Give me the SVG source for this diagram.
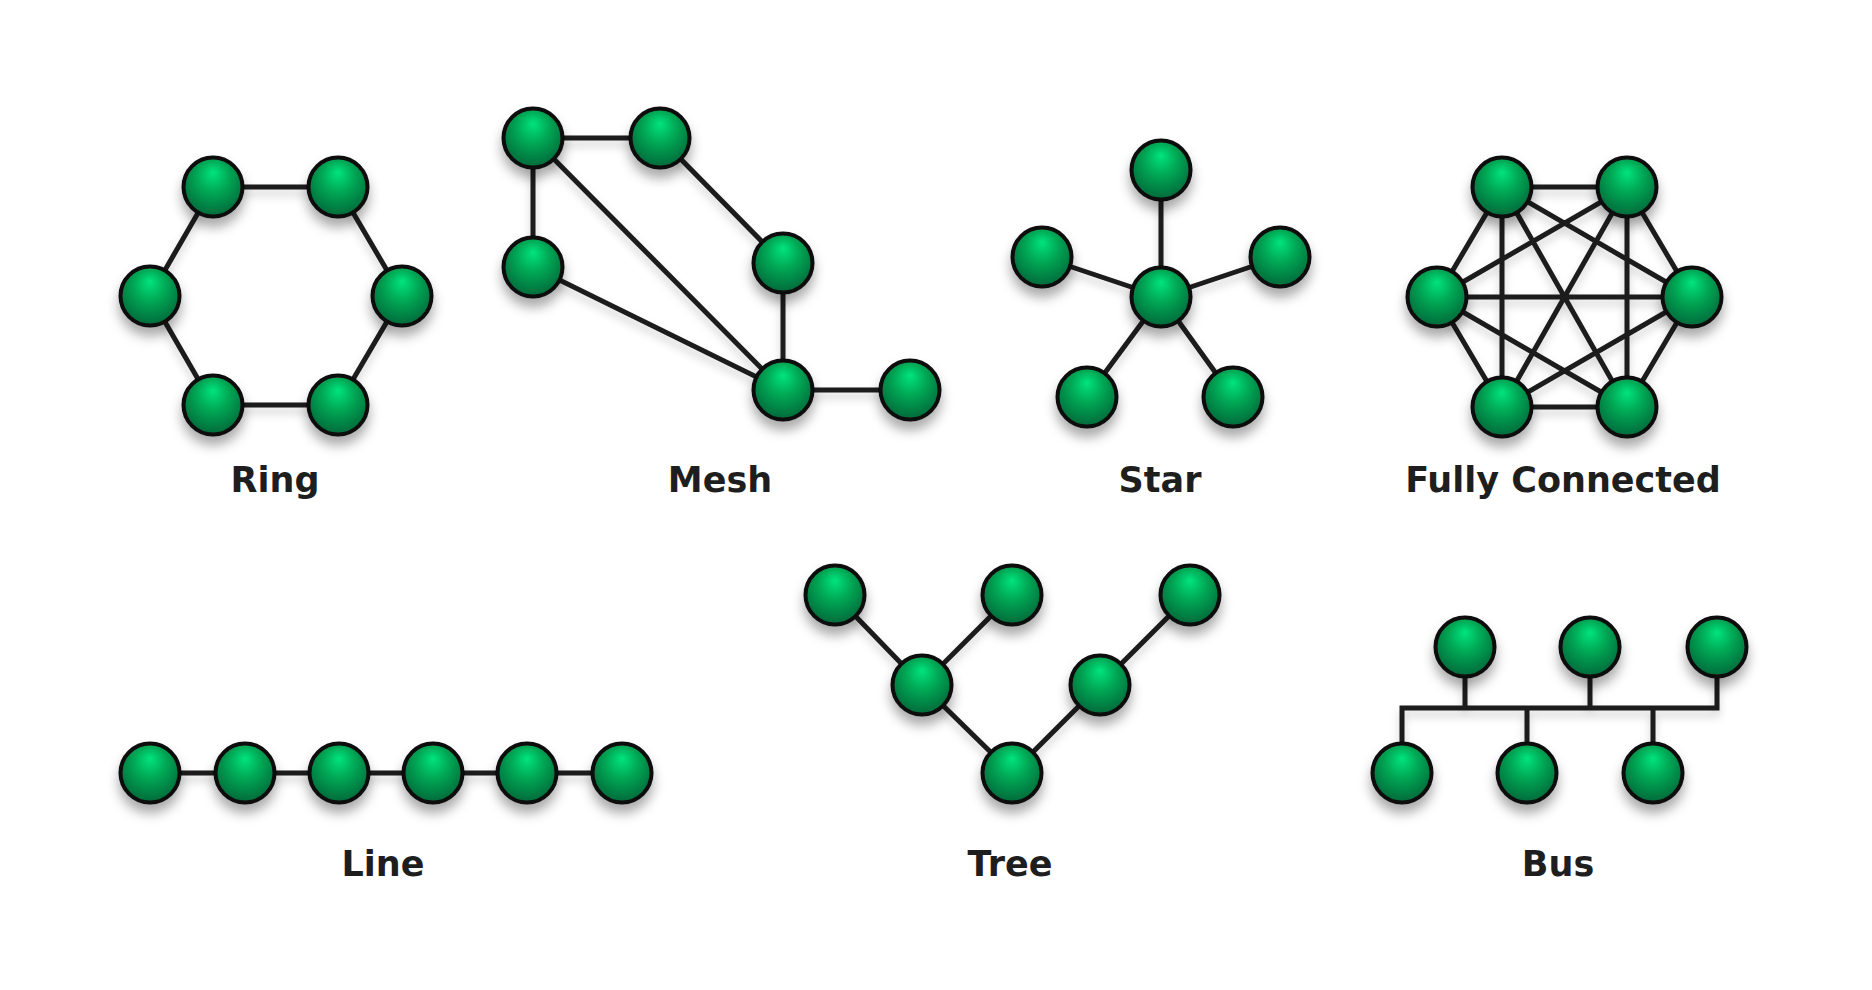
<svg xmlns="http://www.w3.org/2000/svg" width="1872" height="990" viewBox="0 0 1872 990">
<defs>
<radialGradient id="g" cx="50%" cy="40%" r="60%" fx="50%" fy="25%">
<stop offset="0" stop-color="#00e47e"/>
<stop offset="0.45" stop-color="#06a855"/>
<stop offset="1" stop-color="#04693a"/>
</radialGradient>
<filter id="sh" x="-50%" y="-50%" width="200%" height="220%">
<feDropShadow dx="0" dy="9" stdDeviation="6" flood-color="#000" flood-opacity="0.33"/>
</filter>
<filter id="lsh" x="-20%" y="-20%" width="140%" height="160%">
<feDropShadow dx="0" dy="6" stdDeviation="4" flood-color="#000" flood-opacity="0.18"/>
</filter>
</defs>
<style>
.n{fill:url(#g);stroke:#0e0e0e;stroke-width:4}
.e{stroke:#1c1c1c;stroke-width:5;fill:none;stroke-linecap:butt}
.t{font-family:"DejaVu Sans","Liberation Sans",sans-serif;font-weight:bold;font-size:35px;fill:#1e1e1e;text-anchor:middle}
</style>
<rect width="1872" height="990" fill="#ffffff"/>

<g id="connectors" filter="url(#lsh)">
<!-- Ring -->
<path class="e" d="M213,187 L338,187 L402,296 L338,405 L213,405 L150,296 Z"/>
<!-- Mesh -->
<path class="e" d="M533,138 L660,138 M533,138 L533,267 M533,138 L783,390 M533,267 L783,390 M660,138 L783,263 M783,263 L783,390 M783,390 L910,390"/>
<!-- Star -->
<path class="e" d="M1161,297 L1161,170 M1161,297 L1042,257 M1161,297 L1280,257 M1161,297 L1087,397 M1161,297 L1233,397"/>
<!-- Fully Connected -->
<path class="e" d="M1502,187 L1627,187 M1502,187 L1437,297 M1502,187 L1692,297 M1502,187 L1502,407 M1502,187 L1627,407
M1627,187 L1437,297 M1627,187 L1692,297 M1627,187 L1502,407 M1627,187 L1627,407
M1437,297 L1692,297 M1437,297 L1502,407 M1437,297 L1627,407
M1692,297 L1502,407 M1692,297 L1627,407
M1502,407 L1627,407"/>
<!-- Line -->
<path class="e" d="M150,773 L622,773"/>
<!-- Tree -->
<path class="e" d="M835,595 L922,685 L1012,595 M922,685 L1012,773 L1100,685 L1190,595"/>
<!-- Bus -->
<path class="e" d="M1402,773 L1402,708 L1717,708 L1717,647 M1465,647 L1465,708 M1590,647 L1590,708 M1527,708 L1527,773 M1653,708 L1653,773"/>
</g>

<g id="ring" filter="url(#sh)">
<circle class="n" cx="213" cy="187" r="29.5"/>
<circle class="n" cx="338" cy="187" r="29.5"/>
<circle class="n" cx="150" cy="296" r="29.5"/>
<circle class="n" cx="402" cy="296" r="29.5"/>
<circle class="n" cx="213" cy="405" r="29.5"/>
<circle class="n" cx="338" cy="405" r="29.5"/>
</g>
<text class="t" x="275" y="492">Ring</text>

<g id="mesh" filter="url(#sh)">
<circle class="n" cx="533" cy="138" r="29.5"/>
<circle class="n" cx="660" cy="138" r="29.5"/>
<circle class="n" cx="533" cy="267" r="29.5"/>
<circle class="n" cx="783" cy="263" r="29.5"/>
<circle class="n" cx="783" cy="390" r="29.5"/>
<circle class="n" cx="910" cy="390" r="29.5"/>
</g>
<text class="t" x="720" y="492">Mesh</text>

<g id="star" filter="url(#sh)">
<circle class="n" cx="1161" cy="170" r="29.5"/>
<circle class="n" cx="1042" cy="257" r="29.5"/>
<circle class="n" cx="1280" cy="257" r="29.5"/>
<circle class="n" cx="1161" cy="297" r="29.5"/>
<circle class="n" cx="1087" cy="397" r="29.5"/>
<circle class="n" cx="1233" cy="397" r="29.5"/>
</g>
<text class="t" x="1160" y="492">Star</text>

<g id="fully-connected" filter="url(#sh)">
<circle class="n" cx="1502" cy="187" r="29.5"/>
<circle class="n" cx="1627" cy="187" r="29.5"/>
<circle class="n" cx="1437" cy="297" r="29.5"/>
<circle class="n" cx="1692" cy="297" r="29.5"/>
<circle class="n" cx="1502" cy="407" r="29.5"/>
<circle class="n" cx="1627" cy="407" r="29.5"/>
</g>
<text class="t" x="1563" y="492">Fully Connected</text>

<g id="line" filter="url(#sh)">
<circle class="n" cx="150" cy="773" r="29.5"/>
<circle class="n" cx="245" cy="773" r="29.5"/>
<circle class="n" cx="339" cy="773" r="29.5"/>
<circle class="n" cx="433" cy="773" r="29.5"/>
<circle class="n" cx="527" cy="773" r="29.5"/>
<circle class="n" cx="622" cy="773" r="29.5"/>
</g>
<text class="t" x="383" y="876">Line</text>

<g id="tree" filter="url(#sh)">
<circle class="n" cx="835" cy="595" r="29.5"/>
<circle class="n" cx="1012" cy="595" r="29.5"/>
<circle class="n" cx="1190" cy="595" r="29.5"/>
<circle class="n" cx="922" cy="685" r="29.5"/>
<circle class="n" cx="1100" cy="685" r="29.5"/>
<circle class="n" cx="1012" cy="773" r="29.5"/>
</g>
<text class="t" x="1010" y="876">Tree</text>

<g id="bus" filter="url(#sh)">
<circle class="n" cx="1465" cy="647" r="29.5"/>
<circle class="n" cx="1590" cy="647" r="29.5"/>
<circle class="n" cx="1717" cy="647" r="29.5"/>
<circle class="n" cx="1402" cy="773" r="29.5"/>
<circle class="n" cx="1527" cy="773" r="29.5"/>
<circle class="n" cx="1653" cy="773" r="29.5"/>
</g>
<text class="t" x="1558" y="876">Bus</text>
</svg>
